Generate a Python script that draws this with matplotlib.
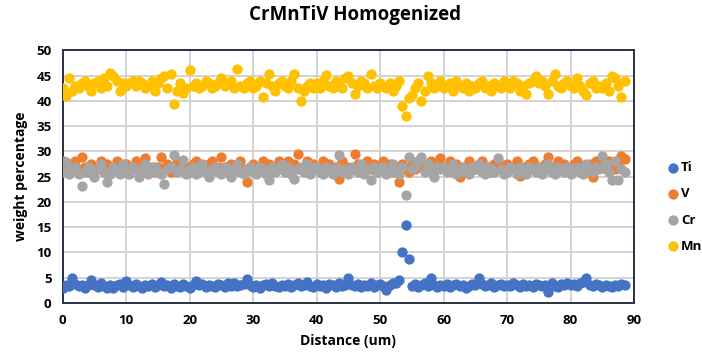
import matplotlib.pyplot as plt
import numpy as np

plt.rcParams['font.family'] = ['Open Sans', 'DejaVu Sans']

# line scan, one point every 0.5 um
step = 0.5

ti = [2.9, 3.5, 3.3, 4.9, 3.8, 3.4, 3.6, 3.0, 3.5, 4.6,
      3.6, 3.2, 3.9, 3.4, 3.0, 3.6, 2.9, 3.5, 3.8, 3.2,
      4.3, 3.5, 3.1, 3.7, 3.3, 2.9, 3.6, 3.4, 3.8, 3.2,
      3.5, 4.2, 3.3, 3.6, 3.0, 3.8, 3.4, 3.2, 3.7, 3.3,
      3.0, 3.6, 4.3, 3.5, 3.8, 3.2, 3.6, 3.4, 3.1, 3.7,
      3.5, 3.2, 3.9, 3.4, 4.0, 3.3, 3.6, 3.8, 4.8, 3.5,
      3.2, 3.6, 3.0, 3.5, 3.8, 3.3, 3.9, 3.4, 3.1, 3.6,
      3.4, 3.8, 3.2, 3.5, 3.9, 3.3, 3.6, 4.1, 3.4, 3.2,
      3.7, 3.3, 3.6, 3.0, 3.8, 3.5, 3.2, 3.9, 3.4, 3.6,
      4.9, 3.5, 3.3, 3.8, 3.1, 3.6, 3.4, 3.9, 3.2, 3.5,
      3.7, 3.3, 2.6, 3.5, 3.9, 4.0, 4.6, 10.1, 15.5, 8.8,
      3.4, 3.7, 3.2, 3.6, 3.9, 3.3, 4.9, 3.5, 3.1, 3.6,
      3.4, 3.8, 3.2, 3.5, 3.7, 3.3, 3.6, 3.0, 3.4, 3.8,
      3.5, 4.9, 3.7, 3.3, 3.6, 3.9, 3.2, 3.5, 3.8, 3.4,
      3.6, 3.3, 3.9, 3.5, 3.2, 3.7, 3.4, 3.6, 3.1, 3.8,
      3.5, 3.3, 3.6, 2.2, 3.9, 3.4, 3.2, 3.7, 3.5, 4.0,
      3.6, 3.8, 3.3, 3.9, 4.2, 4.9, 3.6, 3.4, 3.8, 3.5,
      3.2, 3.6, 3.3, 3.1, 3.5, 3.4, 3.7, 3.6]

v = [28.0, 27.5, 26.5, 27.0, 28.0, 26.5, 28.8, 27.0, 26.0, 27.5,
     26.5, 27.0, 28.0, 26.0, 27.5, 27.0, 26.5, 28.0, 27.0, 26.5,
     27.5, 26.0, 27.0, 28.0, 26.5, 27.5, 28.7, 26.5, 27.0, 26.0,
     27.0, 28.9, 26.5, 27.5, 26.0, 27.0, 28.0, 26.5, 27.5, 27.0,
     26.0, 27.5, 28.0, 26.5, 27.0, 26.0, 27.5, 28.0, 26.5, 27.0,
     28.8, 27.0, 26.0, 27.5, 26.5, 27.0, 28.0, 26.5, 24.0, 27.0,
     27.5, 26.0, 27.0, 28.0, 26.5, 27.5, 26.0, 27.0, 28.0, 26.5,
     27.0, 28.0, 26.5, 27.5, 29.4, 26.5, 27.0, 28.0, 26.0, 27.5,
     26.5, 27.0, 28.0, 26.5, 27.5, 26.0, 27.0, 24.6, 28.0, 26.5,
     27.0, 26.5, 29.4, 27.5, 26.0, 27.0, 28.0, 26.5, 27.5, 26.0,
     27.0, 28.0, 26.5, 27.5, 26.0, 27.0, 24.0, 27.5, 26.5, 26.0,
     27.5, 26.5, 28.0, 27.0, 26.5, 27.5, 28.0, 26.5, 27.0, 28.6,
     26.5, 27.0, 28.0, 26.0, 27.5, 24.9, 27.0, 26.5, 28.0, 27.0,
     26.5, 27.5, 28.0, 26.5, 27.0, 26.0, 27.5, 28.0, 26.5, 27.0,
     27.5, 26.5, 27.0, 28.0, 25.2, 27.0, 26.5, 27.5, 28.0, 26.5,
     27.0, 26.5, 27.5, 28.9, 26.0, 27.0, 28.0, 26.5, 27.5, 27.0,
     26.5, 27.5, 28.0, 26.5, 27.0, 26.0, 27.5, 24.9, 28.0, 27.0,
     27.5, 26.5, 28.0, 27.0, 26.5, 27.5, 29.0, 28.5]

cr = [26.0, 27.9, 25.5, 26.5, 27.0, 25.5, 23.2, 26.0, 27.0, 26.5,
      25.0, 26.5, 27.5, 26.0, 24.0, 25.5, 27.0, 26.5, 25.5, 27.5,
      26.0, 25.5, 27.0, 26.5, 25.0, 26.0, 27.5, 25.5, 26.5, 27.0,
      26.0, 25.5, 23.6, 26.5, 27.0, 29.2, 26.0, 26.5, 28.2, 25.5,
      26.5, 27.0, 25.5, 26.0, 27.5, 26.0, 25.0, 26.5, 27.0, 26.0,
      25.5, 27.0, 26.5, 25.0, 26.5, 27.5, 26.0, 25.5, 26.5, 27.0,
      26.0, 25.5, 27.0, 26.5, 25.5, 24.3, 27.0, 26.0, 26.5, 27.5,
      26.0, 27.0, 25.5, 24.6, 26.5, 27.0, 26.0, 27.5, 25.5, 26.5,
      27.0, 26.0, 25.5, 27.0, 26.5, 25.5, 27.0, 29.2, 26.0, 26.5,
      25.5, 27.0, 26.5, 26.0, 27.5, 25.5, 26.5, 24.3, 27.0, 26.0,
      26.5, 27.0, 25.5, 26.0, 27.5, 26.0, 25.5, 27.0, 21.3, 28.9,
      26.5, 27.0, 28.0, 28.9, 26.0, 27.5, 26.5, 25.0, 27.0, 26.5,
      27.0, 26.0, 26.5, 27.5, 25.5, 26.0, 27.0, 26.5, 25.5, 27.0,
      26.5, 27.5, 26.0, 25.5, 27.0, 26.5, 26.0, 28.7, 26.5, 25.5,
      26.0, 27.0, 26.5, 25.5, 27.0, 26.0, 25.5, 27.0, 26.5, 26.0,
      27.0, 25.5, 26.5, 27.5, 26.0, 25.5, 27.0, 26.5, 26.0, 27.0,
      25.5, 26.5, 27.0, 26.0, 25.5, 27.5, 26.5, 26.0, 27.0, 26.5,
      29.0, 27.5, 26.0, 24.3, 28.0, 24.3, 26.5, 26.0]

mn = [42.5, 41.0, 44.5, 42.0, 43.0, 42.5, 43.5, 44.0, 43.0, 42.0,
      43.5, 44.0, 42.5, 44.5, 43.0, 45.6, 45.0, 44.0, 42.0, 43.5,
      43.0, 43.5, 44.0, 43.0, 44.0, 43.5, 42.5, 43.0, 44.0, 42.0,
      43.5, 44.5, 45.0, 42.5, 45.3, 39.4, 42.0, 43.5, 41.5, 42.5,
      46.0, 43.0, 43.5, 42.5, 43.0, 44.0, 43.5, 42.5, 43.0, 43.5,
      44.5, 43.0, 43.5, 44.0, 42.5, 46.3, 43.0, 42.5, 43.5, 44.0,
      42.5, 43.0, 44.0, 40.7, 43.5, 45.3, 43.0, 42.0, 43.5, 44.0,
      43.0, 42.5, 44.0, 45.4, 42.5, 39.9, 42.0, 43.0, 43.5, 42.5,
      43.5, 42.5, 44.0, 45.2, 43.0, 42.5, 44.0, 43.0, 42.5, 44.5,
      45.0, 43.5, 41.4, 43.0, 44.0, 43.5, 42.5, 45.4, 43.0, 42.5,
      43.5, 43.0, 42.5, 43.5, 42.0, 43.0, 44.0, 39.0, 37.0, 40.6,
      41.1, 42.5, 43.5, 40.0, 42.0, 44.9, 43.5, 42.5, 43.0, 44.0,
      42.5, 43.0, 43.5, 42.0, 44.0, 43.0, 42.5, 43.5, 42.0, 43.0,
      42.5, 43.5, 44.0, 42.5, 43.0, 42.0, 43.5, 43.0, 42.5, 44.0,
      43.0, 42.5, 44.0, 43.5, 42.0, 43.0, 41.4, 43.5, 44.0, 44.9,
      43.5, 44.0, 43.0, 41.3, 44.0, 45.4, 43.0, 42.5, 43.5, 44.0,
      43.0, 42.5, 44.5, 43.0, 42.0, 41.2, 43.5, 44.0, 42.5, 43.0,
      42.5, 43.5, 42.0, 45.0, 44.5, 43.0, 40.7, 44.0]

series = [('Ti', ti, '#4472C4'), ('V', v, '#ED7D31'),
          ('Cr', cr, '#A5A5A5'), ('Mn', mn, '#FFC000')]

distance = np.arange(len(ti)) * step

fig = plt.figure(figsize=(7.02, 3.58), dpi=100)
ax = fig.add_axes([0.0893, 0.1536, 0.814, 0.706])

for name, vals, col in series:
    ax.scatter(distance, vals, s=55, color=col, label=name, zorder=3, linewidths=0)

ax.set_xlim(0, 90)
ax.set_ylim(0, 50)
ax.set_xticks(range(0, 91, 10))
ax.set_yticks(range(0, 51, 5))
ax.grid(True, color='#D0D0D0', linewidth=1.3, zorder=0)
ax.set_axisbelow(True)
for sp in ax.spines.values():
    sp.set_color('#2A3145')
    sp.set_linewidth(1.4)
ax.tick_params(length=0, labelsize=9.5, pad=8)
for lab in ax.get_xticklabels() + ax.get_yticklabels():
    lab.set_fontweight('bold')

ax.set_xlabel('Distance (um)', fontsize=10, fontweight='bold', labelpad=5)
ax.set_ylabel('weight percentage', fontsize=10, fontweight='bold', labelpad=6)
fig.suptitle('CrMnTiV Homogenized', x=0.505, y=0.985, fontsize=13.5, fontweight='bold')

leg = fig.legend(loc='center left', bbox_to_anchor=(0.942, 0.422), frameon=False,
                 handlelength=0.8, handletextpad=0.2, labelspacing=1.0,
                 borderpad=0, fontsize=9.5, markerscale=1.0)
for t in leg.get_texts():
    t.set_fontweight('bold')

fig.savefig('out.png', dpi=100)
